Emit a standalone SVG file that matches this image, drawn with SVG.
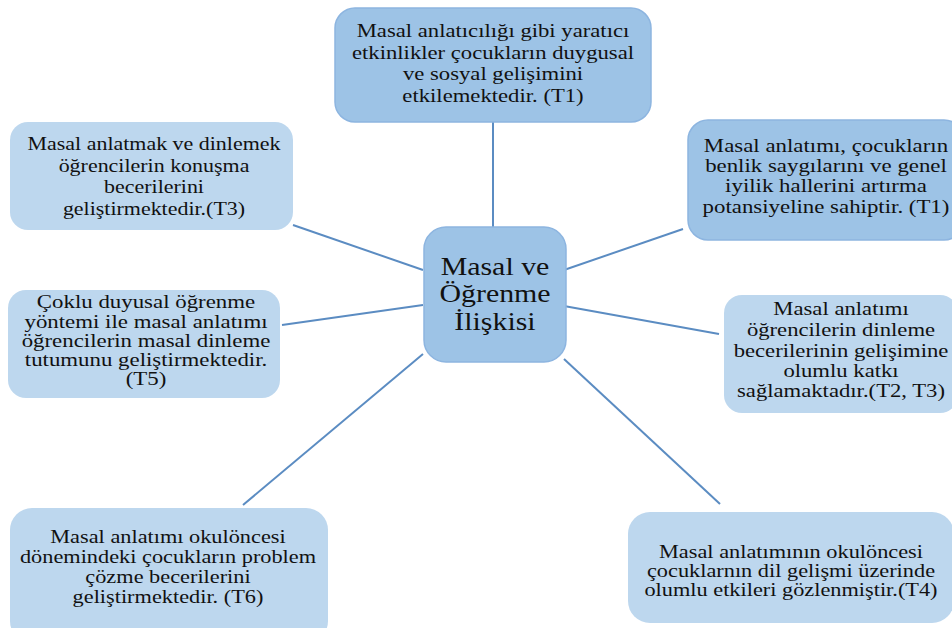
<svg xmlns="http://www.w3.org/2000/svg" width="952" height="628" viewBox="0 0 952 628">
<style>
.dark{fill:#9DC3E6;stroke:#8DB5E0;stroke-width:1.5}
.light{fill:#BDD7EE}
.edge{stroke:#5B8CC2;stroke-width:2;fill:none}
.lbl{font-family:'Liberation Serif',serif;font-size:18px;fill:#111;text-anchor:middle}
.big{font-family:'Liberation Serif',serif;font-size:24.5px;fill:#111;text-anchor:middle}
</style>
<rect width="952" height="628" fill="#fff"/>
<g id="connectors">
<line class="edge" x1="493" y1="122" x2="493" y2="227"/>
<line class="edge" x1="293" y1="225" x2="423" y2="270"/>
<line class="edge" x1="282" y1="325" x2="423" y2="305"/>
<line class="edge" x1="564" y1="270" x2="683" y2="229"/>
<line class="edge" x1="564" y1="306" x2="719" y2="334"/>
<line class="edge" x1="423" y1="354" x2="243" y2="505"/>
<line class="edge" x1="564" y1="359" x2="720" y2="504"/>
</g>
<g id="n-top" class="lbl">
<rect class="dark" x="335" y="8" width="316" height="114" rx="20"/>
<text transform="translate(493,37) scale(1.26,1)">Masal anlatıcılığı gibi yaratıcı</text>
<text transform="translate(493,59) scale(1.26,1)">etkinlikler çocukların duygusal</text>
<text transform="translate(493,80) scale(1.26,1)">ve sosyal gelişimini</text>
<text transform="translate(493,102) scale(1.26,1)">etkilemektedir. (T1)</text>
</g>
<g id="n-t3" class="lbl">
<rect class="light" x="10" y="122" width="283" height="108" rx="18"/>
<text transform="translate(154,150) scale(1.22,1)">Masal anlatmak ve dinlemek</text>
<text transform="translate(154,172) scale(1.22,1)">öğrencilerin konuşma</text>
<text transform="translate(154,193) scale(1.22,1)">becerilerini</text>
<text transform="translate(154,215) scale(1.22,1)">geliştirmektedir.(T3)</text>
</g>
<g id="n-right-t1" class="lbl">
<rect class="dark" x="688" y="120" width="276" height="120" rx="20"/>
<text transform="translate(826,152) scale(1.27,1)">Masal anlatımı, çocukların</text>
<text transform="translate(826,172) scale(1.27,1)">benlik saygılarını ve genel</text>
<text transform="translate(826,192) scale(1.27,1)">iyilik hallerini artırma</text>
<text transform="translate(826,213) scale(1.27,1)">potansiyeline sahiptir. (T1)</text>
</g>
<g id="n-center" class="big">
<rect class="dark" x="424" y="227" width="142" height="135" rx="22"/>
<text transform="translate(495,275) scale(1.22,1)">Masal ve</text>
<text transform="translate(495,302) scale(1.22,1)">Öğrenme</text>
<text transform="translate(495,330) scale(1.22,1)">İlişkisi</text>
</g>
<g id="n-t5" class="lbl">
<rect class="light" x="8" y="290" width="272" height="108" rx="18"/>
<text transform="translate(146,308) scale(1.27,1)">Çoklu duyusal öğrenme</text>
<text transform="translate(146,328) scale(1.27,1)">yöntemi ile masal anlatımı</text>
<text transform="translate(146,347) scale(1.27,1)">öğrencilerin masal dinleme</text>
<text transform="translate(146,366) scale(1.27,1)">tutumunu geliştirmektedir.</text>
<text transform="translate(146,385) scale(1.27,1)">(T5)</text>
</g>
<g id="n-t2t3" class="lbl">
<rect class="light" x="724" y="295" width="234" height="118" rx="18"/>
<text transform="translate(841,315) scale(1.26,1)">Masal anlatımı</text>
<text transform="translate(841,336) scale(1.26,1)">öğrencilerin dinleme</text>
<text transform="translate(841,357) scale(1.26,1)">becerilerinin gelişimine</text>
<text transform="translate(841,377) scale(1.26,1)">olumlu katkı</text>
<text transform="translate(841,397) scale(1.26,1)">sağlamaktadır.(T2, T3)</text>
</g>
<g id="n-t6" class="lbl">
<rect class="light" x="10" y="508" width="318" height="135" rx="22"/>
<text transform="translate(168,543) scale(1.24,1)">Masal anlatımı okulöncesi</text>
<text transform="translate(168,563) scale(1.24,1)">dönemindeki çocukların problem</text>
<text transform="translate(168,583) scale(1.24,1)">çözme becerilerini</text>
<text transform="translate(168,603) scale(1.24,1)">geliştirmektedir. (T6)</text>
</g>
<g id="n-t4" class="lbl">
<rect class="light" x="628" y="512" width="326" height="111" rx="22"/>
<text transform="translate(791,558) scale(1.24,1)">Masal anlatımının okulöncesi</text>
<text transform="translate(791,577) scale(1.24,1)">çocuklarnın dil gelişmi üzerinde</text>
<text transform="translate(791,596) scale(1.24,1)">olumlu etkileri gözlenmiştir.(T4)</text>
</g>
</svg>
